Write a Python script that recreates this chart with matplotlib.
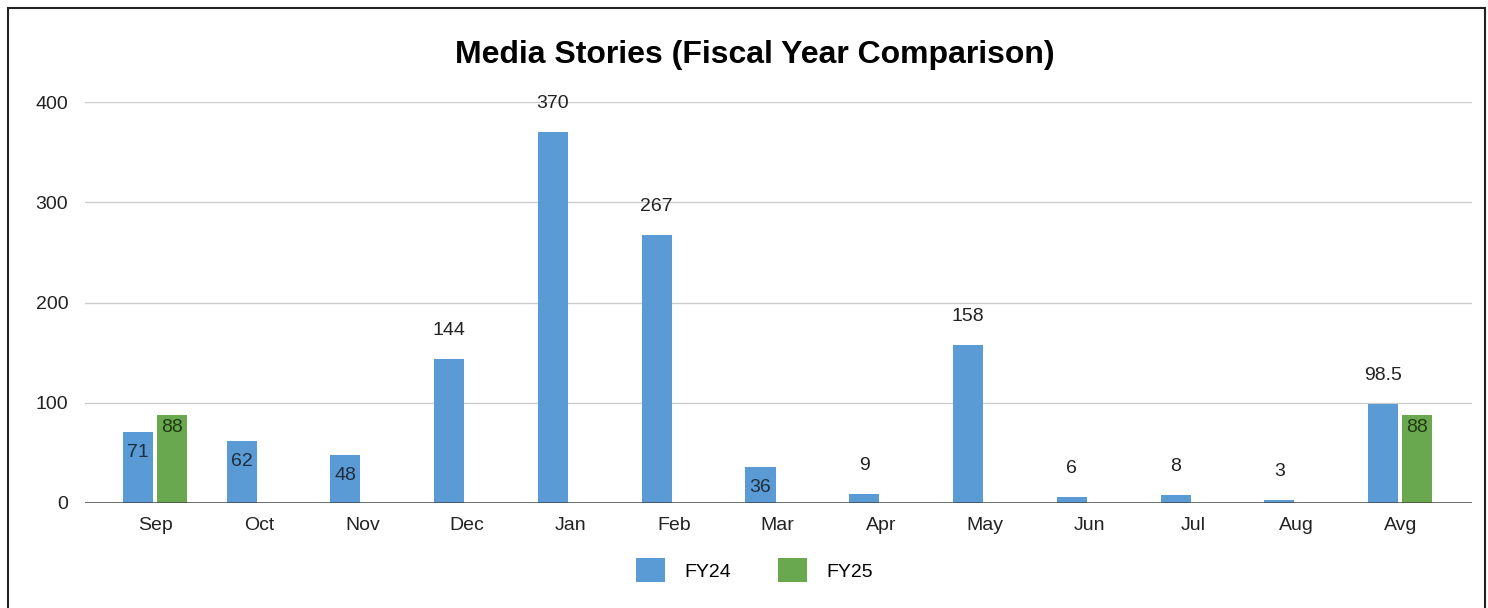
import numpy as np
import matplotlib.pyplot as plt
from matplotlib.patches import Rectangle

plt.rcParams['font.family'] = ['Liberation Sans', 'DejaVu Sans']

months = ["Sep", "Oct", "Nov", "Dec", "Jan", "Feb", "Mar", "Apr", "May", "Jun", "Jul", "Aug", "Avg"]
fy24 = [71, 62, 48, 144, 370, 267, 36, 9, 158, 6, 8, 3, 98.5]
fy25 = [88, 0, 0, 0, 0, 0, 0, 0, 0, 0, 0, 0, 88]
fy25_shown = [True, False, False, False, False, False, False, False, False, False, False, False, True]

blue = "#5b9bd5"
green = "#6aa84f"

fig = plt.figure(figsize=(14.88, 6.08), dpi=100)
ax = fig.add_axes([0.0571, 0.1727, 0.9321, 0.6595])

x = np.arange(len(months))
w = 0.29
off = 0.165

ax.bar(x - off, fy24, w, color=blue, label="FY24", zorder=3)
x25 = x[np.array(fy25_shown)]
v25 = np.array(fy25)[np.array(fy25_shown)]
ax.bar(x25 + off, v25, w, color=green, label="FY25", zorder=3)

# labels: inside the bar for mid-size values, above otherwise (like the sheet)
for i, v in enumerate(fy24):
    txt = ("%g" % v)
    if 30 <= v <= 90:
        ax.text(x[i] - off, v - 12, txt, ha="center", va="top", fontsize=14, color="#1f2d3d", zorder=4)
    else:
        ax.text(x[i] - off, v + 20, txt, ha="center", va="bottom", fontsize=14, color="#222222", zorder=4)
for xi, v in zip(x25, v25):
    ax.text(xi + off, v - 4, "%g" % v, ha="center", va="top", fontsize=14, color="#1e3a12", zorder=4)

ax.set_xlim(-0.675, 12.69)
ax.set_ylim(0, 400)
ax.set_yticks([0, 100, 200, 300, 400])
ax.set_xticks(x)
ax.set_xticklabels(months)
ax.tick_params(axis="both", length=0, labelsize=14, colors="#222222")
ax.tick_params(axis="x", pad=10)
ax.tick_params(axis="y", pad=12)
ax.grid(axis="y", color="#cccccc", linewidth=1, zorder=0)
ax.axhline(0, color="#444444", linewidth=1.8, zorder=5)
for s in ax.spines.values():
    s.set_visible(False)

fig.suptitle("Media Stories (Fiscal Year Comparison)", x=0.507, y=0.935, fontsize=23, fontweight="bold")

leg = fig.legend(loc="center", bbox_to_anchor=(0.507, 0.062), ncol=2, frameon=False,
                 fontsize=14, handlelength=1.5, handleheight=1.5, columnspacing=2.4, handletextpad=1.0)

fig.patches.append(Rectangle((8 / 1488, -0.02), 1477 / 1488, 1 - 8 / 608 + 0.02,
                             transform=fig.transFigure, fill=False, edgecolor="#222222", linewidth=1.5))

fig.savefig("out.png", dpi=100)
